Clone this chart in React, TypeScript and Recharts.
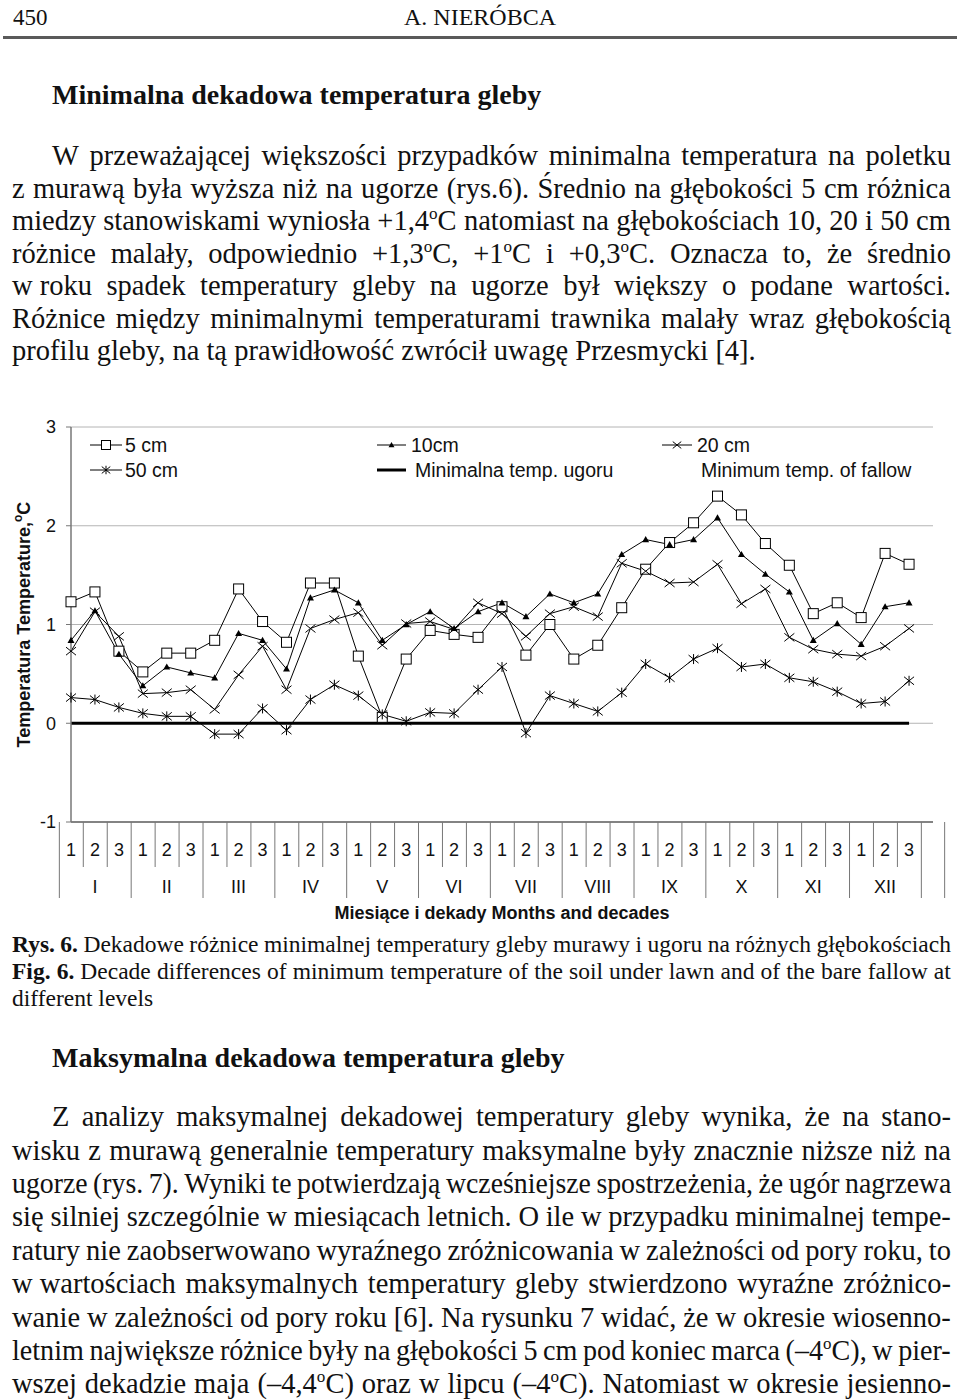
import React, { useLayoutEffect, useRef, useState } from 'react';
import { LineChart, Line, XAxis, YAxis, CartesianGrid, Legend } from 'recharts';

// ---------------- data ----------------
const MONTHS = ['I', 'II', 'III', 'IV', 'V', 'VI', 'VII', 'VIII', 'IX', 'X', 'XI', 'XII'];
const DECADES = ['1', '2', '3'];
const Y_TICKS = [-1, 0, 1, 2, 3];

const CM5 = [1.23, 1.33, 0.73, 0.52, 0.71, 0.71, 0.84, 1.36, 1.03, 0.82, 1.42, 1.42,
  0.68, 0.06, 0.65, 0.94, 0.90, 0.87, 1.18, 0.69, 1.00, 0.65, 0.79, 1.17,
  1.56, 1.83, 2.03, 2.30, 2.11, 1.82, 1.60, 1.11, 1.22, 1.07, 1.72, 1.61];
const CM10 = [0.84, 1.14, 0.70, 0.38, 0.57, 0.51, 0.46, 0.91, 0.84, 0.55, 1.27, 1.35,
  1.22, 0.84, 1.00, 1.13, 0.96, 1.13, 1.22, 1.08, 1.31, 1.22, 1.31, 1.71,
  1.86, 1.81, 1.86, 2.08, 1.71, 1.51, 1.33, 0.84, 1.01, 0.80, 1.18, 1.22];
const CM20 = [0.73, 1.13, 0.88, 0.30, 0.31, 0.34, 0.14, 0.49, 0.78, 0.34, 0.96, 1.05,
  1.12, 0.79, 1.01, 1.03, 0.95, 1.22, 1.11, 0.88, 1.11, 1.18, 1.08, 1.62,
  1.54, 1.42, 1.43, 1.61, 1.21, 1.36, 0.87, 0.75, 0.70, 0.68, 0.78, 0.96];
const CM50 = [0.26, 0.24, 0.16, 0.10, 0.07, 0.07, -0.11, -0.11, 0.15, -0.07, 0.24, 0.39,
  0.28, 0.09, 0.02, 0.11, 0.10, 0.34, 0.57, -0.10, 0.28, 0.20, 0.12, 0.31,
  0.60, 0.46, 0.65, 0.76, 0.57, 0.60, 0.46, 0.42, 0.32, 0.20, 0.22, 0.43];
const FALLOW = [0, 0, 0, 0, 0, 0, 0, 0, 0, 0, 0, 0,
  0, 0, 0, 0, 0, 0, 0, 0, 0, 0, 0, 0,
  0, 0, 0, 0, 0, 0, 0, 0, 0, 0, 0, 0];

const LEGEND_LABELS = ['5 cm', '10cm', '20 cm', '50 cm', 'Minimalna temp. ugoru', 'Minimum temp. of fallow'];
const Y_TITLE = 'Temperatura Temperature,';
const X_TITLE = 'Miesiące i dekady Months and decades';

const rows: any[] = MONTHS.flatMap((m, mi) =>
  DECADES.map((d, di) => {
    const i = mi * 3 + di;
    return { key: `${m}-${d}`, month: m, decade: d, cm5: CM5[i], cm10: CM10[i], cm20: CM20[i], cm50: CM50[i], fallow: FALLOW[i] };
  })
);
// trailing empty category of the original multi-level axis
rows.push({ key: 'end', month: '', decade: '' });

// ---------------- layout ----------------
const CW = 960;
const CH = 530;
const M = { top: 27, right: 27, left: 0, bottom: 0 };
const Y_W = 71;
const X_H = 108;
const PLOT_W = CW - M.right - Y_W;
const BAND = PLOT_W / rows.length;
const SANS = '"Liberation Sans", Arial, sans-serif';
const SERIF = '"Liberation Serif", "Times New Roman", serif';
const INK = '#111';

// ---------------- markers ----------------
function Marker({ type, cx, cy, k = 1 }: any) {
  if (cx == null || cy == null) return null;
  if (type === 'square') {
    const h = 5 * k;
    return <rect x={cx - h} y={cy - h} width={2 * h} height={2 * h} fill="#fff" stroke="#000" strokeWidth={1} />;
  }
  if (type === 'tri') {
    const h = 3.5 * k;
    return <path d={`M${cx},${cy - h} L${cx + h},${cy + h * 0.75} L${cx - h},${cy + h * 0.75} Z`} fill="#000" />;
  }
  if (type === 'x') {
    const a = 5 * k, b = 4 * k;
    return (
      <g stroke="#000" strokeWidth={1}>
        <line x1={cx - a} y1={cy - b} x2={cx + a} y2={cy + b} />
        <line x1={cx - a} y1={cy + b} x2={cx + a} y2={cy - b} />
      </g>
    );
  }
  if (type === 'star') {
    const a = 5 * k, b = 4 * k;
    return (
      <g stroke="#000" strokeWidth={1}>
        <line x1={cx - a} y1={cy - b} x2={cx + a} y2={cy + b} />
        <line x1={cx - a} y1={cy + b} x2={cx + a} y2={cy - b} />
        <line x1={cx} y1={cy - a} x2={cx} y2={cy + a} />
      </g>
    );
  }
  return null;
}

const dotOf = (type: string) => (p: any) => <Marker key={`${type}-${p.index}`} type={type} cx={p.cx} cy={p.cy} />;

// ---------------- axis pieces ----------------
function XTick(props: any) {
  const { x, y } = props;
  const index = props.index ?? props.payload?.index ?? 0;
  const row = rows[index] || {};
  const half = BAND / 2;
  const last = index === rows.length - 1;
  const monthStart = index % 3 === 0;
  return (
    <g>
      <line x1={x - half} x2={x - half} y1={y} y2={y + (monthStart ? 76 : 45)} stroke="#777" strokeWidth={1} />
      {last && <line x1={x + half} x2={x + half} y1={y} y2={y + 76} stroke="#777" strokeWidth={1} />}
      {row.decade && (
        <text x={x} y={y + 34} textAnchor="middle" fontSize={18} fontFamily={SANS} fill={INK}>{row.decade}</text>
      )}
      {index % 3 === 1 && (
        <text x={x} y={y + 71} textAnchor="middle" fontSize={18} fontFamily={SANS} fill={INK}>{row.month}</text>
      )}
    </g>
  );
}

function XTitle(props: any) {
  const vb = props.viewBox || { x: 0, y: 0, width: 0 };
  return (
    <text x={vb.x + vb.width / 2} y={vb.y + 97} textAnchor="middle" fontSize={18} fontWeight={700} fontFamily={SANS} fill={INK}>
      {X_TITLE}
    </text>
  );
}

function YTitle(props: any) {
  const vb = props.viewBox || { x: 0, y: 0, height: 0 };
  const cx = vb.x + 24;
  const cy = vb.y + vb.height / 2;
  return (
    <text transform={`translate(${cx},${cy}) rotate(-90)`} textAnchor="middle" dy={6} fontSize={18} fontWeight={700} fontFamily={SANS} fill={INK}>
      {Y_TITLE}
      <tspan fontSize={12} dy={-8}>o</tspan>
      <tspan dy={8}>C</tspan>
    </text>
  );
}

// ---------------- legend ----------------
const LEGEND_LAYOUT = [
  { marker: 'square', x: 90, w: 32, tx: 125, row: 0 },
  { marker: 'tri', x: 377, w: 29, tx: 411, row: 0 },
  { marker: 'x', x: 662, w: 30, tx: 697, row: 0 },
  { marker: 'star', x: 90, w: 32, tx: 125, row: 1 },
  { marker: 'thick', x: 377, w: 29, tx: 415, row: 1 },
  { marker: 'none', x: 700, w: 0, tx: 701, row: 1 },
];
const LEGEND_ROWS = [45, 70];

function LegendContent() {
  return (
    <div style={{ position: 'relative', width: CW, height: 100, fontFamily: SANS, color: INK }}>
      {LEGEND_LAYOUT.map((it, i) => {
        const cy = LEGEND_ROWS[it.row];
        return (
          <React.Fragment key={i}>
            {it.marker !== 'none' && (
              <svg style={{ position: 'absolute', left: it.x, top: cy - 10, overflow: 'visible' }} width={it.w} height={20}>
                <line x1={0} x2={it.w} y1={10} y2={10} stroke="#000" strokeWidth={it.marker === 'thick' ? 3 : 1} />
                {it.marker !== 'thick' && <Marker type={it.marker} cx={it.w / 2} cy={10} k={it.marker === 'square' ? 0.9 : 0.85} />}
              </svg>
            )}
            <div style={{ position: 'absolute', left: it.tx, top: cy - 10, height: 20, lineHeight: '20px', fontSize: 19.5, whiteSpace: 'nowrap' }}>
              {LEGEND_LABELS[i]}
            </div>
          </React.Fragment>
        );
      })}
    </div>
  );
}

function Chart() {
  return (
    <LineChart width={CW} height={CH} data={rows} margin={M}>
      <CartesianGrid horizontal vertical={false} stroke="#b4b4b4" strokeWidth={1} />
      <XAxis
        dataKey="key"
        type="category"
        interval={0}
        height={X_H}
        tickLine={false}
        tickSize={0}
        tickMargin={0}
        axisLine={{ stroke: '#666', strokeWidth: 1.5 }}
        tick={(p: any) => <XTick {...p} />}
        label={<XTitle />}
      />
      <YAxis
        type="number"
        domain={[-1, 3]}
        ticks={Y_TICKS}
        width={Y_W}
        tickSize={5}
        tickMargin={10}
        axisLine={{ stroke: '#777', strokeWidth: 1.5 }}
        tickLine={{ stroke: '#777' }}
        tick={{ fontSize: 18, fontFamily: SANS, fill: INK }}
        label={<YTitle />}
      />
      <YAxis
        yAxisId="r"
        orientation="right"
        type="number"
        domain={[-1, 3]}
        ticks={Y_TICKS}
        width={0}
        tick={false}
        tickLine={false}
        axisLine={{ stroke: '#a0a0a0', strokeWidth: 1 }}
      />
      <Legend layout="vertical" align="center" verticalAlign="middle" content={<LegendContent />} wrapperStyle={{ left: 0, top: 0, width: CW, height: 100 }} />
      <Line dataKey="cm5" name={LEGEND_LABELS[0]} stroke="#000" strokeWidth={1} dot={dotOf('square')} activeDot={false} isAnimationActive={false} />
      <Line dataKey="cm10" name={LEGEND_LABELS[1]} stroke="#000" strokeWidth={1} dot={dotOf('tri')} activeDot={false} isAnimationActive={false} />
      <Line dataKey="cm20" name={LEGEND_LABELS[2]} stroke="#000" strokeWidth={1} dot={dotOf('x')} activeDot={false} isAnimationActive={false} />
      <Line dataKey="cm50" name={LEGEND_LABELS[3]} stroke="#000" strokeWidth={1} dot={dotOf('star')} activeDot={false} isAnimationActive={false} />
      <Line dataKey="fallow" name={LEGEND_LABELS[4]} stroke="#000" strokeWidth={3} dot={false} activeDot={false} isAnimationActive={false} />
    </LineChart>
  );
}

// ---------------- page text ----------------
const BODY_X = 12;
const BODY_W = 939;
const BODY_FS = 28.5;

function renderWord(w: string, key: number, bold: boolean) {
  const parts = w.split('^o');
  return (
    <span key={key} style={{ fontWeight: bold ? 700 : undefined }}>
      {parts.map((p, i) => (
        <React.Fragment key={i}>
          {i > 0 && <span style={{ fontSize: '0.6em', position: 'relative', top: '-0.65em' }}>o</span>}
          {p}
        </React.Fragment>
      ))}
    </span>
  );
}

function TextRow({ text, y, x = BODY_X, w = BODY_W, fs = BODY_FS, justify = true, boldWords = 0, bold = false, gap = 0.25 }: any) {
  const ref = useRef<HTMLDivElement>(null);
  const [s, setS] = useState(1);
  useLayoutEffect(() => {
    const el = ref.current;
    if (!el) return;
    const ow = el.offsetWidth;
    if (ow > w + 0.5) setS(w / ow);
  }, [w]);
  const words = text.split(' ');
  return (
    <div
      ref={ref}
      style={{
        position: 'absolute',
        left: x,
        top: y - 0.8375 * fs,
        display: 'flex',
        justifyContent: justify ? 'space-between' : 'flex-start',
        columnGap: justify ? `${gap * 0.8}em` : `${gap}em`,
        width: 'max-content',
        minWidth: justify ? w : undefined,
        whiteSpace: 'pre',
        fontSize: fs,
        lineHeight: `${fs}px`,
        fontWeight: bold ? 700 : 400,
        transform: s < 1 ? `scaleX(${s})` : undefined,
        transformOrigin: '0 0',
      }}
    >
      {words.map((wd: string, i: number) => renderWord(wd, i, i < boldWords))}
    </div>
  );
}

const PARA1 = [
  'W przeważającej większości przypadków minimalna temperatura na poletku',
  'z murawą była wyższa niż na ugorze (rys.6). Średnio na głębokości 5 cm różnica',
  'miedzy stanowiskami wyniosła +1,4^oC natomiast na głębokościach 10, 20 i 50 cm',
  'różnice malały, odpowiednio +1,3^oC, +1^oC i +0,3^oC. Oznacza to, że średnio',
  'w\u00a0roku spadek temperatury gleby na ugorze był większy o podane wartości.',
  'Różnice między minimalnymi temperaturami trawnika malały wraz głębokością',
  'profilu gleby, na tą prawidłowość zwrócił uwagę Przesmycki [4].',
];
const CAPTION = [
  'Rys. 6. Dekadowe różnice minimalnej temperatury gleby murawy i ugoru na różnych głębokościach',
  'Fig. 6. Decade differences of minimum temperature of the soil under lawn and of the bare fallow at',
  'different levels',
];
const PARA2 = [
  'Z analizy maksymalnej dekadowej temperatury gleby wynika, że na stano-',
  'wisku z murawą generalnie temperatury maksymalne były znacznie niższe niż na',
  'ugorze (rys. 7). Wyniki te potwierdzają wcześniejsze spostrzeżenia, że ugór nagrzewa',
  'się silniej szczególnie w miesiącach letnich. O ile w przypadku minimalnej tempe-',
  'ratury nie zaobserwowano wyraźnego zróżnicowania w zależności od pory roku, to',
  'w\u00a0wartościach maksymalnych temperatury gleby stwierdzono wyraźne zróżnico-',
  'wanie w zależności od pory roku [6]. Na rysunku 7 widać, że w okresie wiosenno-',
  'letnim największe różnice były na głębokości 5 cm pod koniec marca (–4^oC), w pier-',
  'wszej dekadzie maja (–4,4^oC) oraz w lipcu (–4^oC). Natomiast w okresie jesienno-',
];

export default function App() {
  const indent = 52;
  return (
    <div style={{ position: 'absolute', left: 0, top: 0, width: 960, height: 1400, background: '#fff', color: INK, fontFamily: SERIF, overflow: 'hidden' }}>
      {/* running head */}
      <TextRow text="450" y={25} x={13} fs={23} justify={false} />
      <div style={{ position: 'absolute', left: 0, width: 960, top: 25 - 0.8375 * 24, fontSize: 24, lineHeight: '24px', textAlign: 'center' }}>A. NIERÓBCA</div>
      <div style={{ position: 'absolute', left: 3, width: 954, top: 36, height: 3, background: '#5a5a5a' }} />

      <TextRow text="Minimalna dekadowa temperatura gleby" y={104} x={indent} fs={28} justify={false} bold />
      {PARA1.map((t, i) => (
        <TextRow key={i} text={t} y={166 + 32.5 * i} x={i === 0 ? indent : BODY_X} w={i === 0 ? BODY_W - (indent - BODY_X) : BODY_W} justify={i < PARA1.length - 1} />
      ))}

      <div style={{ position: 'absolute', left: 0, top: 400 }}>
        <Chart />
      </div>

      {CAPTION.map((t, i) => (
        <TextRow key={i} text={t} y={953 + 27 * i} fs={23.5} justify={i < CAPTION.length - 1} boldWords={i < 2 ? 2 : 0} />
      ))}

      <TextRow text="Maksymalna dekadowa temperatura gleby" y={1067} x={indent} fs={28} justify={false} bold />
      {PARA2.map((t, i) => (
        <TextRow key={i} text={t} y={1127 + 33.4 * i} x={i === 0 ? indent : BODY_X} w={i === 0 ? BODY_W - (indent - BODY_X) : BODY_W} justify />
      ))}
    </div>
  );
}
